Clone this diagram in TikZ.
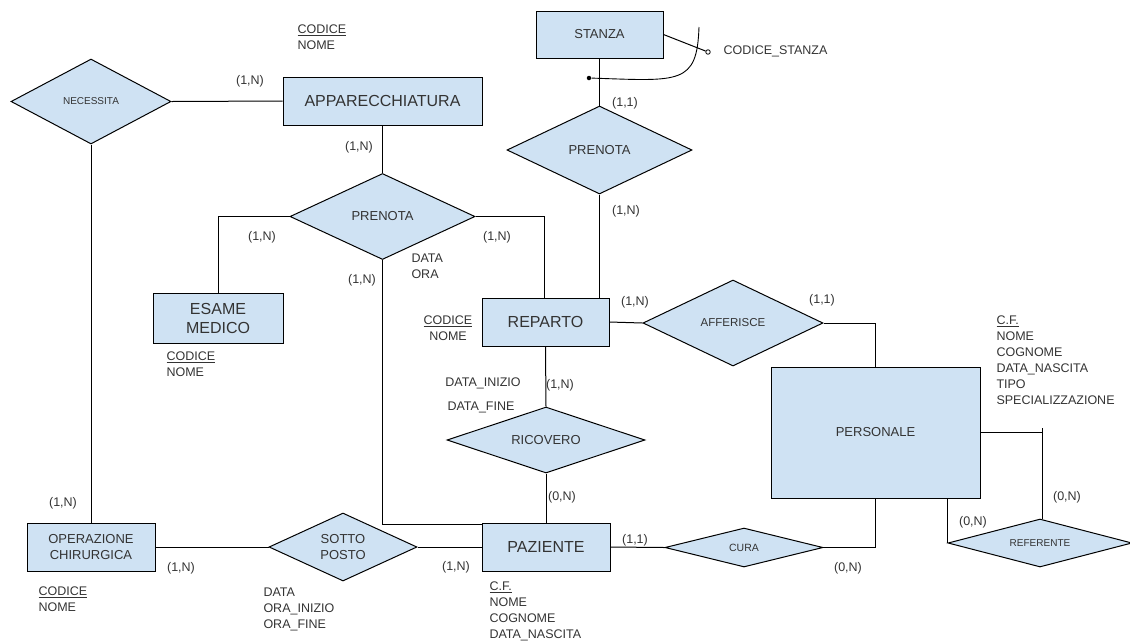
\documentclass[tikz,border=0pt]{standalone}
\usepackage{fontspec}
\setmainfont{Liberation Sans}
\usetikzlibrary{shapes.geometric}
\definecolor{fillb}{HTML}{CFE2F3}
\definecolor{txt}{HTML}{333333}
\begin{document}
\begin{tikzpicture}[x=1pt,y=-1pt,line width=1pt,
 ent/.style={draw=black, fill=fillb, inner sep=0pt, text=txt, align=center},
 rel/.style={draw=black, fill=fillb, shape=diamond, inner sep=0pt, text=txt, align=center},
 lab/.style={text=txt, inner sep=0pt, font=\fontsize{12.5}{16}\selectfont},
 attr/.style={lab, align=left, anchor=north west},
 big/.style={font=\fontsize{16}{19}\selectfont},
 med/.style={font=\fontsize{13}{16}\selectfont},
 sml/.style={font=\fontsize{10}{12}\selectfont},
 dotf/.style={circle, fill=black, inner sep=0pt, minimum size=4.5pt},
 doto/.style={circle, draw=black, fill=white, line width=0.8pt, inner sep=0pt, minimum size=4.5pt}]
\useasboundingbox (0,0) rectangle (1130,641);

% entities
\node[ent, med, minimum width=127pt, minimum height=47pt] (stz) at (599.5,34.5) {STANZA};
\node[ent, big, minimum width=199pt, minimum height=48pt] (app) at (382.5,101) {APPARECCHIATURA};
\node[ent, big, minimum width=130pt, minimum height=50pt] (esa) at (218,318) {ESAME\\MEDICO};
\node[ent, big, minimum width=127pt, minimum height=48pt] (rep) at (545.5,322) {REPARTO};
\node[ent, med, minimum width=209pt, minimum height=131pt] (per) at (875.5,432.5) {PERSONALE};
\node[ent, med, minimum width=128pt, minimum height=48pt] (ope) at (91,547) {OPERAZIONE\\CHIRURGICA};
\node[ent, big, minimum width=128pt, minimum height=48pt] (paz) at (546,547) {PAZIENTE};

% relationships
\node[rel, sml, minimum width=160pt, minimum height=85pt, aspect=1.88] (nec) at (91,101.5) {NECESSITA};
\node[rel, med, minimum width=185pt, minimum height=88pt, aspect=2.1] (pr2) at (599.5,150) {PRENOTA};
\node[rel, med, minimum width=185pt, minimum height=86pt, aspect=2.15] (pr1) at (382.5,216.5) {PRENOTA};
\node[rel, font=\fontsize{11.5}{14}\selectfont, minimum width=180pt, minimum height=86pt, aspect=2.1] (aff) at (733,323) {AFFERISCE};
\node[rel, med, minimum width=198pt, minimum height=66pt, aspect=3] (ric) at (546,440) {RICOVERO};
\node[rel, med, minimum width=148pt, minimum height=68pt, aspect=2.18] (sot) at (343,547) {SOTTO\\POSTO};
\node[rel, font=\fontsize{10.5}{12}\selectfont, minimum width=158pt, minimum height=39pt, aspect=4.05] (cur) at (744,547.5) {CURA};
\node[rel, sml, minimum width=184pt, minimum height=48pt, aspect=3.83] (ref) at (1040,543) {REFERENTE};

% identifier of STANZA
\node[dotf] (d1) at (589,78) {};
\node[doto] (d2) at (708,52) {};
\coordinate (c0) at (699,27);
\draw (stz.east) -- (d2);
\draw[line width=0.9pt] (c0) .. controls (697,85) and (680,81) .. (d1);
\node[lab, anchor=west] (cs) at (723,51) {CODICE\_STANZA};

% connectors
\draw (stz.south) -- (pr2.north);
\draw (pr2.south) -- (pr2.south |- rep.north);
\draw (nec.east) -- (app.west);
\draw (nec.south) -- (ope.north);
\draw (app.south) -- (pr1.north);
\draw (pr1.west) -| (esa.north);
\draw (pr1.east) -| ([xshift=-1.5pt]rep.north);
\draw (pr1.south) |- ([yshift=-2pt]paz.north west);
\draw (rep.east) -- (aff.west);
\draw (aff.east) -| (per.north);
\draw (rep.south) -- (ric.north);
\draw (ric.south) -- (paz.north);
\draw (ope.east) -- (sot.west);
\draw (sot.east) -- (paz.west);
\draw (paz.east) -- (cur.west);
\draw (cur.east) -| (per.south);
\draw (per.east) -- ([xshift=2pt]per.east -| ref.north);
\draw ([xshift=2pt]ref.north) -- ++(0,-91);
\draw (ref.west) -- (ref.west |- per.south);

% cardinalities
\node[lab] (k1) at (250,81) {(1,N)};
\node[lab] (k2) at (359,147) {(1,N)};
\node[lab] (k3) at (625,103) {(1,1)};
\node[lab] (k4) at (262,237) {(1,N)};
\node[lab] (k5) at (497,237) {(1,N)};
\node[lab] (k6) at (626,211) {(1,N)};
\node[lab] (k7) at (362,280) {(1,N)};
\node[lab] (k8) at (635,302) {(1,N)};
\node[lab] (k9) at (822,300) {(1,1)};
\node[lab] (k10) at (560,385) {(1,N)};
\node[lab] (k11) at (562,497) {(0,N)};
\node[lab] (k12) at (63,503) {(1,N)};
\node[lab] (k13) at (181,568) {(1,N)};
\node[lab] (k14) at (456,567) {(1,N)};
\node[lab] (k15) at (635,540) {(1,1)};
\node[lab] (k16) at (848,568) {(0,N)};
\node[lab] (k17) at (973,522) {(0,N)};
\node[lab] (k18) at (1067,497) {(0,N)};

% attributes
\node[attr] (a1) at (297,24.5) {\underline{CODICE}\\NOME};
\node[attr] (a2) at (166,351) {\underline{CODICE}\\NOME};
\node[lab, align=center, anchor=north] (a3) at (448,315.5) {\underline{CODICE}\\NOME};
\node[attr] (a4) at (38,586.5) {\underline{CODICE}\\NOME};
\node[attr] (a5) at (263,587) {DATA\\ORA\_INIZIO\\ORA\_FINE};
\node[attr] (a6) at (489,581.5) {\underline{C.F.}\\NOME\\COGNOME\\DATA\_NASCITA};
\node[attr] (a7) at (996,315.5) {\underline{C.F.}\\NOME\\COGNOME\\DATA\_NASCITA\\TIPO\\SPECIALIZZAZIONE};
\node[attr] (a8) at (411,253.5) {DATA\\ORA};
\node[lab] (a9) at (483,383) {DATA\_INIZIO};
\node[lab] (a10) at (481,407) {DATA\_FINE};
\end{tikzpicture}
\end{document}
